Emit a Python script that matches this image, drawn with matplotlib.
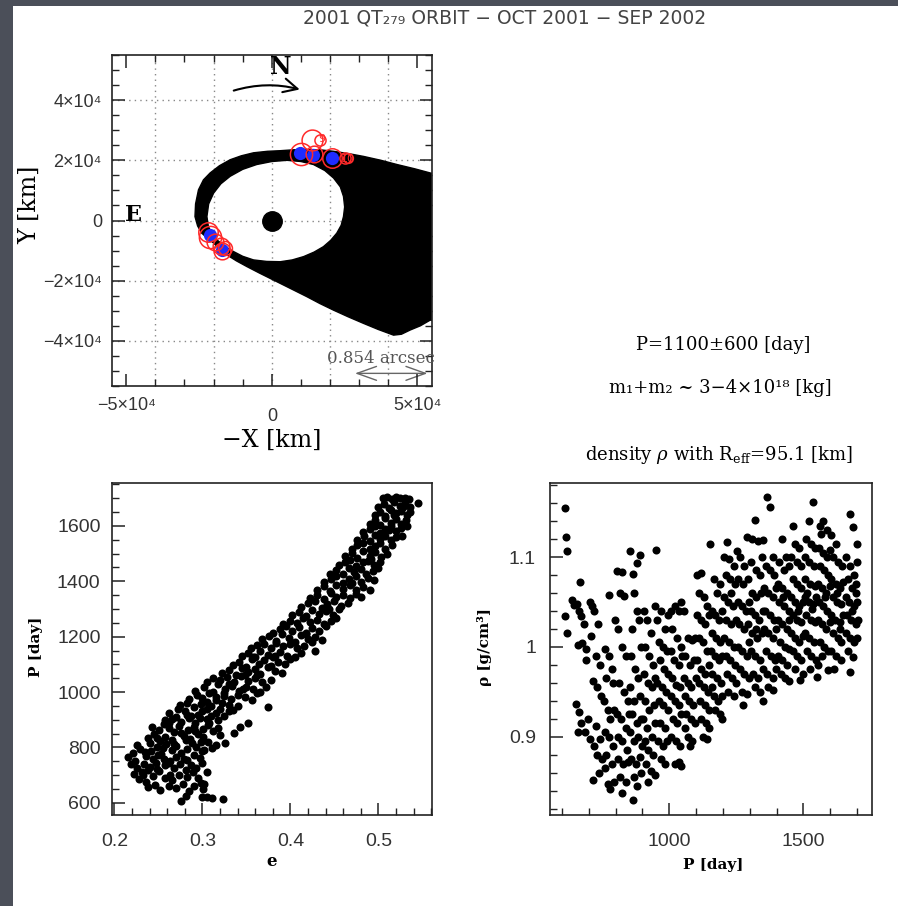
import numpy as np
import matplotlib
matplotlib.use("Agg")
import matplotlib.pyplot as plt
from matplotlib.path import Path
from matplotlib.patches import PathPatch, FancyArrowPatch, Rectangle
from matplotlib.ticker import FixedLocator, MultipleLocator
from matplotlib.transforms import ScaledTranslation

W, H = 898, 906

# ---- orbit panel (units of 1e4 km) ----
cloud_x = [-2.64, -2.62, -2.52, -2.35, -2.12, -1.80, -1.43, -1.05, -0.63, -0.15, 0.29, 0.75,
           1.20, 1.65, 2.12, 2.65, 3.15, 3.75, 4.30, 4.90, 5.44, 6.00,
           6.00, 5.44, 5.10, 4.75, 4.45, 4.18, 3.65, 3.15, 2.62, 2.12, 1.65, 1.20, 0.62,
           0.06, -0.42, -0.86, -1.22, -1.55, -1.80, -2.00, -2.22, -2.41, -2.55]
cloud_y = [0.13, 0.55, 1.02, 1.35, 1.58, 1.82, 2.02, 2.15, 2.25, 2.30, 2.32, 2.35,
           2.36, 2.35, 2.30, 2.22, 2.13, 2.00, 1.86, 1.72, 1.58, 1.45,
           -3.40, -3.31, -3.50, -3.64, -3.78, -3.81, -3.62, -3.42, -3.20, -2.98, -2.76, -2.53, -2.25,
           -1.98, -1.75, -1.53, -1.34, -1.14, -0.95, -0.75, -0.58, -0.42, -0.18]
hole_x = [-2.23, -2.17, -2.00, -1.75, -1.43, -1.00, -0.52, 0.00, 0.52, 1.00, 1.43, 1.82,
          2.12, 2.35, 2.46, 2.50, 2.46, 2.38, 2.23, 2.02, 1.77, 1.45, 1.09, 0.70, 0.29,
          -0.18, -0.63, -1.00, -1.32, -1.63, -1.89, -2.06, -2.18]
hole_y = [0.13, 0.55, 0.91, 1.22, 1.47, 1.70, 1.86, 1.96, 2.00, 1.96, 1.86, 1.66,
          1.41, 1.12, 0.80, 0.45, 0.13, -0.16, -0.42, -0.66, -0.87, -1.05, -1.20, -1.31, -1.37,
          -1.36, -1.31, -1.19, -1.03, -0.85, -0.64, -0.42, -0.20]

blue_x = [0.97, 1.43, 2.06, -2.12, -1.72]
blue_y = [2.25, 2.19, 2.08, -0.48, -0.98]
red_x = [0.99, 1.37, 1.66, 1.45, 2.06, 2.50, 2.62, -2.18, -2.12, -1.95, -1.75, -1.60, -1.72]
red_y = [2.22, 2.69, 2.67, 2.20, 2.08, 2.08, 2.08, -0.38, -0.55, -0.72, -0.85, -0.90, -1.00]
red_ms = [16, 15, 8, 12, 14, 8, 7, 14, 16, 12, 12, 10, 12]

orbit_xticks = [-5, 0, 5]
orbit_xlabels = ["\u22125\u00d710\u2074", "0", "5\u00d710\u2074"]
orbit_yticks = [-4, -2, 0, 2, 4]
orbit_ylabels = ["\u22124\u00d710\u2074", "\u22122\u00d710\u2074", "0", "2\u00d710\u2074", "4\u00d710\u2074"]
grid_vals = [-4, -2, 0, 2, 4]

# ---- eccentricity vs period ----
ecc_period = [
    (0.276, 608), (0.281, 624), (0.300, 620), (0.305, 621), (0.311, 619), (0.323, 614),
    (0.238, 658), (0.252, 648), (0.262, 662), (0.270, 652), (0.285, 642), (0.291, 660), (0.301, 650), (0.246, 665),
    (0.228, 685), (0.236, 676), (0.257, 690), (0.266, 684), (0.278, 668), (0.283, 692), (0.295, 688), (0.298, 672), (0.302, 668),
    (0.222, 705), (0.231, 712), (0.244, 696), (0.251, 716), (0.263, 700), (0.274, 702), (0.281, 718), (0.289, 710), (0.305, 712), (0.238, 720),
    (0.219, 742), (0.226, 724), (0.240, 730), (0.247, 745), (0.258, 735), (0.268, 724), (0.275, 742), (0.287, 735), (0.293, 726), (0.300, 745), (0.234, 740),
    (0.216, 766), (0.224, 752), (0.244, 760), (0.256, 758), (0.263, 752), (0.270, 765), (0.282, 756), (0.297, 762), (0.302, 790), (0.236, 770), (0.250, 774),
    (0.221, 780), (0.229, 795), (0.242, 788), (0.253, 778), (0.265, 790), (0.276, 780), (0.282, 796), (0.293, 800), (0.300, 788), (0.311, 798), (0.235, 784),
    (0.226, 810), (0.240, 815), (0.248, 802), (0.259, 812), (0.270, 805), (0.288, 815), (0.306, 818), (0.316, 810), (0.326, 817), (0.252, 825), (0.281, 828),
    (0.238, 834), (0.245, 848), (0.257, 838), (0.265, 826), (0.279, 842), (0.286, 830), (0.295, 848), (0.301, 836), (0.312, 858), (0.320, 845), (0.336, 851), (0.268, 855),
    (0.243, 875), (0.251, 862), (0.262, 870), (0.273, 878), (0.284, 862), (0.290, 875), (0.301, 868), (0.306, 880), (0.318, 872), (0.343, 875), (0.352, 887), (0.256, 884),
    (0.258, 898), (0.265, 902), (0.276, 893), (0.285, 905), (0.292, 890), (0.305, 902), (0.308, 888), (0.318, 898), (0.325, 912), (0.270, 910), (0.297, 908),
    (0.262, 925), (0.272, 940), (0.280, 930), (0.287, 915), (0.295, 918), (0.300, 932), (0.315, 925), (0.320, 940), (0.330, 930), (0.335, 935), (0.310, 915),
    (0.275, 955), (0.282, 962), (0.290, 945), (0.298, 958), (0.305, 965), (0.310, 950), (0.322, 962), (0.330, 955), (0.340, 948), (0.374, 947), (0.315, 970),
    (0.285, 975), (0.294, 990), (0.300, 978), (0.308, 995), (0.316, 982), (0.324, 998), (0.332, 975), (0.340, 990), (0.348, 982), (0.356, 972), (0.362, 995),
    (0.292, 1005), (0.302, 1018), (0.312, 1002), (0.318, 1028), (0.326, 1012), (0.334, 1022), (0.342, 1005), (0.350, 1020), (0.358, 1010), (0.366, 1002), (0.372, 1018),
    (0.305, 1035), (0.312, 1050), (0.320, 1042), (0.328, 1055), (0.336, 1038), (0.344, 1058), (0.352, 1040), (0.360, 1052), (0.368, 1035), (0.378, 1045), (0.330, 1030),
    (0.322, 1068), (0.330, 1080), (0.338, 1062), (0.345, 1088), (0.352, 1072), (0.360, 1082), (0.366, 1065), (0.374, 1090), (0.382, 1075), (0.390, 1068), (0.348, 1060),
    (0.335, 1098), (0.342, 1110), (0.350, 1092), (0.356, 1118), (0.364, 1100), (0.370, 1115), (0.378, 1095), (0.386, 1108), (0.394, 1100), (0.400, 1120), (0.360, 1125),
    (0.345, 1130), (0.352, 1142), (0.358, 1125), (0.366, 1148), (0.374, 1135), (0.380, 1128), (0.388, 1145), (0.396, 1132), (0.405, 1128), (0.412, 1140), (0.428, 1150),
    (0.355, 1158), (0.362, 1170), (0.370, 1175), (0.378, 1160), (0.384, 1178), (0.392, 1165), (0.400, 1172), (0.408, 1158), (0.416, 1168), (0.424, 1180),
    (0.368, 1190), (0.376, 1202), (0.384, 1185), (0.390, 1208), (0.398, 1195), (0.405, 1182), (0.412, 1205), (0.420, 1192), (0.428, 1200), (0.436, 1188),
    (0.380, 1215), (0.388, 1228), (0.395, 1238), (0.402, 1220), (0.410, 1235), (0.418, 1215), (0.425, 1230), (0.432, 1222), (0.440, 1238),
    (0.392, 1245), (0.400, 1258), (0.408, 1248), (0.414, 1268), (0.422, 1252), (0.430, 1262), (0.438, 1245), (0.446, 1258), (0.452, 1268),
    (0.402, 1278), (0.410, 1290), (0.418, 1275), (0.425, 1298), (0.432, 1282), (0.440, 1292), (0.448, 1278), (0.455, 1300),
    (0.412, 1308), (0.420, 1320), (0.428, 1328), (0.436, 1305), (0.442, 1318), (0.450, 1328), (0.458, 1310), (0.465, 1322),
    (0.422, 1340), (0.430, 1352), (0.438, 1335), (0.446, 1358), (0.452, 1342), (0.460, 1350), (0.468, 1338), (0.474, 1355), (0.480, 1345),
    (0.430, 1370), (0.438, 1382), (0.445, 1365), (0.452, 1388), (0.460, 1372), (0.468, 1385), (0.474, 1368), (0.490, 1370), (0.482, 1380),
    (0.438, 1398), (0.446, 1410), (0.452, 1418), (0.460, 1395), (0.466, 1408), (0.474, 1418), (0.480, 1398), (0.488, 1412), (0.495, 1405),
    (0.445, 1428), (0.452, 1440), (0.460, 1425), (0.466, 1448), (0.472, 1432), (0.480, 1445), (0.486, 1425), (0.494, 1438), (0.500, 1448),
    (0.455, 1458), (0.462, 1470), (0.468, 1478), (0.475, 1455), (0.482, 1468), (0.488, 1475), (0.495, 1460), (0.502, 1470),
    (0.462, 1490), (0.470, 1502), (0.476, 1485), (0.482, 1508), (0.490, 1492), (0.496, 1505), (0.503, 1488), (0.510, 1500),
    (0.470, 1518), (0.476, 1530), (0.483, 1538), (0.490, 1515), (0.496, 1528), (0.502, 1538), (0.508, 1518), (0.515, 1530),
    (0.476, 1550), (0.484, 1562), (0.490, 1545), (0.496, 1568), (0.502, 1552), (0.508, 1565), (0.514, 1548), (0.520, 1560), (0.527, 1565),
    (0.482, 1578), (0.490, 1590), (0.496, 1598), (0.502, 1575), (0.508, 1588), (0.514, 1598), (0.520, 1580), (0.526, 1592), (0.532, 1598),
    (0.490, 1608), (0.496, 1620), (0.502, 1605), (0.508, 1628), (0.514, 1612), (0.520, 1625), (0.526, 1608), (0.531, 1620),
    (0.496, 1640), (0.502, 1652), (0.508, 1635), (0.514, 1658), (0.520, 1645), (0.526, 1655), (0.532, 1640), (0.536, 1650),
    (0.500, 1668), (0.506, 1680), (0.512, 1665), (0.518, 1688), (0.524, 1672), (0.530, 1685), (0.536, 1668), (0.545, 1682),
    (0.505, 1700), (0.510, 1703), (0.515, 1698), (0.520, 1704), (0.525, 1700), (0.530, 1702), (0.535, 1697),
    (0.232, 700), (0.248, 722), (0.262, 745), (0.279, 760), (0.290, 772), (0.255, 798), (0.268, 812), (0.298, 820),
    (0.248, 835), (0.276, 852), (0.292, 860), (0.262, 888), (0.282, 918), (0.305, 940), (0.325, 985), (0.346, 1012),
    (0.362, 1060), (0.382, 1130), (0.418, 1210), (0.444, 1300), (0.470, 1395), (0.492, 1480), (0.512, 1585),
    (0.518, 1640), (0.528, 1670),
]

# ---- period vs density ----
period_rho = [
    (610, 1.154), (615, 1.122), (618, 1.107), (612, 1.034), (620, 1.015), (636, 1.052), (645, 1.047),
    (667, 1.072), (655, 1.048), (662, 1.040), (670, 1.034), (680, 1.025), (660, 1.002), (675, 1.004), (690, 0.998),
    (652, 0.937), (665, 0.928), (672, 0.915), (660, 0.905), (685, 0.905), (695, 0.920), (690, 0.985),
    (705, 1.050), (712, 1.045), (720, 1.040), (735, 1.025), (708, 1.012), (725, 0.990), (740, 0.980), (715, 0.962),
    (730, 0.955), (745, 0.945), (705, 0.897), (718, 0.890), (730, 0.880), (716, 0.852), (742, 0.897), (748, 0.875),
    (738, 0.860), (726, 0.912),
    (760, 0.998), (775, 0.990), (785, 0.975), (765, 0.965), (790, 0.960), (755, 0.940), (770, 0.930), (780, 0.920),
    (795, 0.930), (760, 0.905), (775, 0.900), (790, 0.890), (765, 0.880), (785, 0.870), (770, 0.848), (780, 0.842),
    (792, 0.850), (760, 0.865), (775, 1.058), (798, 1.030),
    (805, 1.084), (822, 1.083), (830, 1.057), (815, 1.060), (808, 1.020), (825, 1.000), (840, 0.990), (812, 0.960),
    (832, 0.950), (845, 0.940), (805, 0.925), (820, 0.920), (838, 0.910), (848, 0.925), (810, 0.900), (825, 0.895),
    (842, 0.885), (808, 0.875), (828, 0.870), (845, 0.872), (822, 0.837), (840, 0.850), (815, 0.855),
    (853, 1.107), (890, 1.102), (878, 1.093), (866, 1.081), (870, 1.060), (880, 1.040), (862, 1.020), (888, 1.030),
    (895, 1.000), (858, 0.990), (872, 0.975), (885, 0.965), (855, 0.955), (870, 0.940), (892, 0.945), (860, 0.925),
    (878, 0.915), (895, 0.920), (852, 0.905), (868, 0.895), (885, 0.900), (898, 0.890), (858, 0.875), (875, 0.870),
    (890, 0.878), (863, 0.830), (880, 0.845), (895, 0.860), (870, 0.855),
    (949, 1.108), (905, 1.040), (915, 1.030), (930, 1.015), (945, 1.045), (910, 1.000), (925, 0.990), (940, 0.980),
    (905, 0.970), (920, 0.960), (935, 0.955), (948, 0.965), (910, 0.940), (925, 0.930), (942, 0.935), (902, 0.920),
    (918, 0.910), (935, 0.900), (948, 0.915), (908, 0.895), (922, 0.885), (940, 0.880), (912, 0.870), (930, 0.862),
    (945, 0.858), (920, 0.850),
    (955, 1.030), (970, 1.040), (985, 1.020), (995, 1.035), (960, 1.005), (975, 1.000), (990, 0.995), (965, 0.985),
    (980, 0.975), (995, 0.970), (955, 0.960), (972, 0.955), (988, 0.950), (960, 0.940), (978, 0.935), (995, 0.930),
    (965, 0.915), (985, 0.910), (958, 0.895), (975, 0.890), (990, 0.895), (968, 0.875), (985, 0.870),
    (1005, 1.040), (1020, 1.045), (1035, 1.040), (1045, 1.050), (1010, 1.020), (1028, 1.010), (1042, 1.000),
    (1005, 0.995), (1018, 0.985), (1035, 0.980), (1048, 0.990), (1010, 0.965), (1025, 0.958), (1040, 0.955),
    (1005, 0.945), (1020, 0.940), (1038, 0.935), (1015, 0.920), (1030, 0.915), (1045, 0.925), (1008, 0.900),
    (1025, 0.895), (1040, 0.890), (1020, 0.870), (1035, 0.872), (1045, 0.868),
    (1055, 1.040), (1070, 1.010), (1085, 1.008), (1095, 1.010), (1060, 0.990), (1078, 0.980), (1092, 0.985),
    (1055, 0.965), (1068, 0.960), (1082, 0.955), (1098, 0.965), (1058, 0.945), (1075, 0.940), (1090, 0.935),
    (1062, 0.925), (1080, 0.920), (1095, 0.915), (1070, 0.900), (1085, 0.895), (1060, 0.910), (1078, 0.890),
    (1105, 1.080), (1120, 1.082), (1110, 1.060), (1128, 1.055), (1140, 1.045), (1105, 1.035), (1120, 1.030),
    (1135, 1.025), (1148, 1.035), (1110, 1.010), (1125, 1.005), (1142, 0.995), (1105, 0.985), (1118, 0.975),
    (1135, 0.970), (1148, 0.980), (1110, 0.960), (1128, 0.955), (1145, 0.950), (1115, 0.940), (1132, 0.935),
    (1148, 0.930), (1120, 0.920), (1138, 0.915), (1125, 0.900), (1140, 0.898), (1148, 0.910),
    (1152, 1.115), (1165, 1.075), (1178, 1.060), (1190, 1.070), (1158, 1.040), (1172, 1.035), (1185, 1.030),
    (1198, 1.040), (1160, 1.015), (1175, 1.010), (1190, 1.005), (1155, 0.995), (1170, 0.990), (1185, 0.985),
    (1198, 0.990), (1160, 0.970), (1178, 0.965), (1192, 0.960), (1165, 0.945), (1182, 0.940), (1198, 0.945),
    (1170, 0.930), (1188, 0.925), (1160, 0.955), (1195, 0.920),
    (1214, 1.117), (1205, 1.100), (1222, 1.098), (1240, 1.090), (1210, 1.080), (1228, 1.075), (1245, 1.070),
    (1205, 1.055), (1220, 1.050), (1238, 1.045), (1212, 1.030), (1230, 1.025), (1248, 1.030), (1205, 1.010),
    (1222, 1.005), (1240, 1.000), (1210, 0.990), (1228, 0.985), (1245, 0.980), (1215, 0.970), (1235, 0.965),
    (1220, 0.950), (1240, 0.945), (1250, 0.960), (1230, 1.060),
    (1251, 1.107), (1289, 1.122), (1265, 1.100), (1280, 1.090), (1258, 1.075), (1275, 1.070), (1292, 1.075),
    (1255, 1.050), (1270, 1.045), (1285, 1.040), (1298, 1.050), (1260, 1.025), (1278, 1.020), (1295, 1.025),
    (1255, 1.000), (1270, 0.995), (1288, 0.990), (1262, 0.975), (1280, 0.970), (1296, 0.965), (1270, 0.950),
    (1290, 0.948), (1275, 0.935), (1298, 1.005),
    (1320, 1.141), (1310, 1.120), (1330, 1.118), (1345, 1.100), (1305, 1.095), (1322, 1.085), (1340, 1.080),
    (1308, 1.060), (1325, 1.055), (1342, 1.060), (1305, 1.040), (1318, 1.035), (1335, 1.030), (1348, 1.040),
    (1310, 1.015), (1328, 1.010), (1345, 1.015), (1305, 0.995), (1320, 0.990), (1338, 0.985), (1312, 0.970),
    (1330, 0.965), (1348, 0.975), (1318, 0.955), (1340, 0.950), (1325, 1.020),
    (1363, 1.167), (1376, 1.156), (1351, 1.119), (1385, 1.100), (1360, 1.090), (1375, 1.085), (1392, 1.080),
    (1355, 1.065), (1370, 1.060), (1388, 1.055), (1398, 1.065), (1358, 1.040), (1375, 1.035), (1390, 1.030),
    (1352, 1.020), (1368, 1.015), (1385, 1.010), (1398, 1.020), (1360, 0.995), (1378, 0.990), (1395, 0.985),
    (1365, 0.970), (1385, 0.965), (1351, 0.940), (1370, 0.955), (1388, 0.952), (1398, 0.975),
    (1420, 1.120), (1435, 1.100), (1410, 1.095), (1428, 1.085), (1445, 1.090), (1405, 1.070), (1420, 1.065),
    (1438, 1.060), (1410, 1.050), (1428, 1.045), (1445, 1.040), (1405, 1.030), (1420, 1.025), (1438, 1.020),
    (1448, 1.030), (1412, 1.005), (1430, 1.000), (1445, 0.998), (1405, 0.990), (1420, 0.985), (1438, 0.980),
    (1415, 0.970), (1432, 0.965), (1448, 0.962), (1425, 1.055),
    (1462, 1.135), (1470, 1.115), (1485, 1.110), (1455, 1.100), (1478, 1.095), (1492, 1.090), (1460, 1.075),
    (1475, 1.070), (1490, 1.065), (1455, 1.055), (1470, 1.050), (1485, 1.045), (1498, 1.050), (1462, 1.035),
    (1478, 1.030), (1492, 1.028), (1455, 1.015), (1470, 1.010), (1485, 1.005), (1498, 1.012), (1460, 0.995),
    (1478, 0.990), (1492, 0.985), (1488, 0.963), (1470, 0.975), (1498, 0.970), (1480, 1.040),
    (1537, 1.161), (1520, 1.140), (1510, 1.120), (1530, 1.115), (1545, 1.110), (1505, 1.100), (1522, 1.095),
    (1540, 1.090), (1508, 1.075), (1525, 1.070), (1542, 1.068), (1505, 1.055), (1520, 1.050), (1535, 1.048),
    (1548, 1.055), (1510, 1.035), (1528, 1.030), (1545, 1.028), (1505, 1.015), (1520, 1.010), (1538, 1.005),
    (1512, 0.995), (1530, 0.990), (1548, 0.985), (1525, 0.975), (1550, 0.967), (1515, 1.060), (1532, 1.042),
    (1562, 1.135), (1565, 1.126), (1575, 1.140), (1590, 1.130), (1558, 1.110), (1572, 1.105), (1588, 1.100),
    (1598, 1.108), (1562, 1.090), (1578, 1.085), (1592, 1.080), (1555, 1.070), (1570, 1.065), (1585, 1.060),
    (1598, 1.068), (1560, 1.050), (1575, 1.045), (1590, 1.040), (1555, 1.030), (1570, 1.025), (1585, 1.020),
    (1598, 1.028), (1562, 1.005), (1578, 1.000), (1592, 0.995), (1556, 0.980), (1593, 0.974), (1570, 0.990),
    (1582, 1.055),
    (1605, 1.125), (1620, 1.115), (1610, 1.100), (1628, 1.095), (1645, 1.090), (1605, 1.075), (1620, 1.070),
    (1638, 1.065), (1648, 1.072), (1610, 1.055), (1625, 1.050), (1640, 1.048), (1605, 1.035), (1618, 1.030),
    (1635, 1.028), (1648, 1.035), (1610, 1.015), (1628, 1.010), (1642, 1.005), (1605, 0.995), (1622, 0.990),
    (1640, 0.985), (1615, 0.975), (1635, 1.020), (1625, 1.060),
    (1674, 1.148), (1687, 1.133), (1699, 1.115), (1699, 1.094), (1660, 1.100), (1675, 1.090), (1690, 1.080),
    (1665, 1.075), (1680, 1.065), (1695, 1.070), (1658, 1.055), (1672, 1.050), (1688, 1.045), (1702, 1.050),
    (1662, 1.035), (1678, 1.030), (1695, 1.025), (1705, 1.030), (1660, 1.015), (1675, 1.010), (1690, 1.005),
    (1668, 0.995), (1687, 0.989), (1674, 0.972), (1700, 1.010), (1680, 1.040), (1695, 1.060),
]

SANS = ["Liberation Sans", "DejaVu Sans"]
SERIF = ["DejaVu Serif", "DejaVu Sans"]
TICK_COLOR = "#333333"
plt.rcParams["mathtext.fontset"] = "dejavuserif"


def fx(px):
    return px / W


def fy(py):
    return 1 - py / H


fig = plt.figure(figsize=(W / 100, H / 100), dpi=100, facecolor="#4b4f59")
fig.add_artist(Rectangle((13 / W, 0), 1 - 13 / W, 1 - 6 / H, transform=fig.transFigure,
                         facecolor="white", edgecolor="none", zorder=0))

fig.text(fx(505), fy(18), "2001 QT\u2082\u2087\u2089 ORBIT \u2212 OCT 2001 \u2212 SEP 2002",
         ha="center", va="center", fontsize=13.5, color="#444444", family=["DejaVu Sans"])


def style_axes(ax, both_sides, size):
    for sp in ax.spines.values():
        sp.set_linewidth(1.2)
        sp.set_color("#222222")
    ax.tick_params(which="both", direction="in", top=both_sides, right=both_sides,
                   colors="#222222", labelcolor=TICK_COLOR, labelsize=size)
    ax.tick_params(which="major", length=9, width=1.1)
    ax.tick_params(which="minor", length=5, width=1.0)
    for lab in ax.get_xticklabels() + ax.get_yticklabels():
        lab.set_family(SANS)


# ---------------- orbit panel ----------------
ax1 = fig.add_axes([fx(111.7), fy(386), (432 - 111.7) / W, (386 - 55) / H])
ax1.set_xlim(-5.5, 5.5)
ax1.set_ylim(-5.5, 5.5)
for g in grid_vals:
    ax1.axvline(g, color="#888888", lw=1.0, ls=(0, (1, 3)), zorder=1)
    ax1.axhline(g, color="#888888", lw=1.0, ls=(0, (1, 3)), zorder=1)

verts = list(zip(cloud_x, cloud_y)) + [(cloud_x[0], cloud_y[0])]
hole = list(zip(hole_x[::-1], hole_y[::-1])) + [(hole_x[-1], hole_y[-1])]
codes = [Path.MOVETO] + [Path.LINETO] * (len(verts) - 2) + [Path.CLOSEPOLY]
hcodes = [Path.MOVETO] + [Path.LINETO] * (len(hole) - 2) + [Path.CLOSEPOLY]
cloud = PathPatch(Path(verts + hole, codes + hcodes), facecolor="black", edgecolor="black",
                  lw=1.0, joinstyle="round", zorder=2)
ax1.add_patch(cloud)

ax1.plot([0], [0], "o", color="black", ms=14, zorder=3)
ax1.plot(blue_x, blue_y, "o", color="#1f2cff", ms=9.5, mec="none", zorder=4)
for x, y, m in zip(red_x, red_y, red_ms):
    ax1.plot([x], [y], "o", mfc="none", mec="#ff2a2a", mew=1.1, ms=m, zorder=5)
ax1.text(1.72, 2.72, "9", color="#ff2a2a", fontsize=8, ha="center", va="center", zorder=6)
ax1.text(2.62, 2.05, "10", color="#ff2a2a", fontsize=8, ha="center", va="center", zorder=6)

ax1.text(0.3, 5.1, "N", fontsize=17, fontweight="bold", family=SERIF, ha="center", va="center")
ax1.add_patch(FancyArrowPatch((-1.4, 4.29), (1.05, 4.33), connectionstyle="arc3,rad=-0.15",
                              arrowstyle="->,head_length=0.5,head_width=0.25", mutation_scale=20,
                              lw=1.5, color="black"))
ax1.text(-5.05, -0.02, "E", fontsize=16, fontweight="bold", family=SERIF, ha="left", va="baseline")
ax1.text(1.9, -4.72, "0.854 arcsec", fontsize=12, family=SERIF, color="#555555",
         ha="left", va="baseline", clip_on=False)
ax1.add_patch(FancyArrowPatch((2.76, -5.08), (5.44, -5.08), arrowstyle="<->,head_length=0.7,head_width=0.25",
                              mutation_scale=20, lw=1.0, color="#666666"))

ax1.xaxis.set_major_locator(FixedLocator(orbit_xticks))
ax1.xaxis.set_minor_locator(MultipleLocator(1))
ax1.yaxis.set_major_locator(FixedLocator(orbit_yticks))
ax1.yaxis.set_minor_locator(MultipleLocator(0.5))
ax1.set_xticklabels(orbit_xlabels)
ax1.set_yticklabels(orbit_ylabels)
style_axes(ax1, True, 13)
ax1.tick_params(axis="x", pad=8)
ax1.tick_params(axis="y", pad=7)
zero_lab = ax1.get_xticklabels()[1]
zero_lab.set_transform(zero_lab.get_transform() + ScaledTranslation(0, -8 / 72, fig.dpi_scale_trans))

fig.text(fx(272), fy(440), "\u2212X [km]", fontsize=17, family=SERIF, ha="center", va="center")
fig.text(fx(30), fy(205), "Y [km]", fontsize=17, family=SERIF, ha="center", va="center", rotation=90)

# ---------------- text block ----------------
fig.text(fx(723), fy(345), "P=1100\u00b1600 [day]", fontsize=13, family=SERIF, ha="center", va="center")
fig.text(fx(720), fy(388), "m\u2081+m\u2082 ~ 3\u22124\u00d710\u00b9\u2078 [kg]", fontsize=13, family=SERIF,
         ha="center", va="center")
fig.text(fx(719), fy(455), r"density $\rho$ with R$_{\rm eff}$=95.1 [km]", fontsize=13, family=SERIF,
         ha="center", va="center")

# ---------------- e vs P ----------------
ev, pv = np.array(ecc_period).T
ax2 = fig.add_axes([fx(111.7), fy(815), (431.7 - 111.7) / W, (815 - 483.3) / H])
ax2.plot(ev, pv, "o", color="black", ms=5.8, mec="none")
ax2.set_xlim(0.197, 0.5605)
ax2.set_ylim(556, 1754)
ax2.xaxis.set_major_locator(FixedLocator([0.2, 0.3, 0.4, 0.5]))
ax2.xaxis.set_minor_locator(MultipleLocator(0.02))
ax2.yaxis.set_major_locator(MultipleLocator(200))
ax2.yaxis.set_minor_locator(MultipleLocator(50))
ax2.set_xticklabels(["0.2", "0.3", "0.4", "0.5"])
style_axes(ax2, False, 14)
ax2.tick_params(axis="x", pad=13)
ax2.tick_params(axis="y", pad=8)
fig.text(fx(272), fy(862), "e", fontsize=12, fontweight="bold", family=SERIF, ha="center", va="center")
fig.text(fx(36), fy(647), "P [day]", fontsize=11, fontweight="bold", family=SERIF, ha="center",
         va="center", rotation=90)

# ---------------- P vs rho ----------------
pp, rv = np.array(period_rho).T
ax3 = fig.add_axes([fx(550), fy(815), (871.7 - 550) / W, (815 - 483.3) / H])
ax3.plot(pp, rv, "o", color="black", ms=5.8, mec="none")
ax3.set_xlim(555, 1755)
ax3.set_ylim(0.813, 1.182)
ax3.xaxis.set_major_locator(FixedLocator([1000, 1500]))
ax3.xaxis.set_minor_locator(MultipleLocator(100))
ax3.yaxis.set_major_locator(FixedLocator([0.9, 1.0, 1.1]))
ax3.yaxis.set_minor_locator(MultipleLocator(0.02))
ax3.set_yticklabels(["0.9", "1", "1.1"])
style_axes(ax3, False, 14)
ax3.tick_params(axis="x", pad=13)
ax3.tick_params(axis="y", pad=10)
fig.text(fx(713), fy(865), "P [day]", fontsize=11, fontweight="bold", family=SERIF, ha="center", va="center")
fig.text(fx(485), fy(647), "\u03c1 [g/cm\u00b3]", fontsize=11, fontweight="bold", family=SERIF,
         ha="center", va="center", rotation=90)

fig.savefig("out.png", dpi=100, facecolor=fig.get_facecolor())
